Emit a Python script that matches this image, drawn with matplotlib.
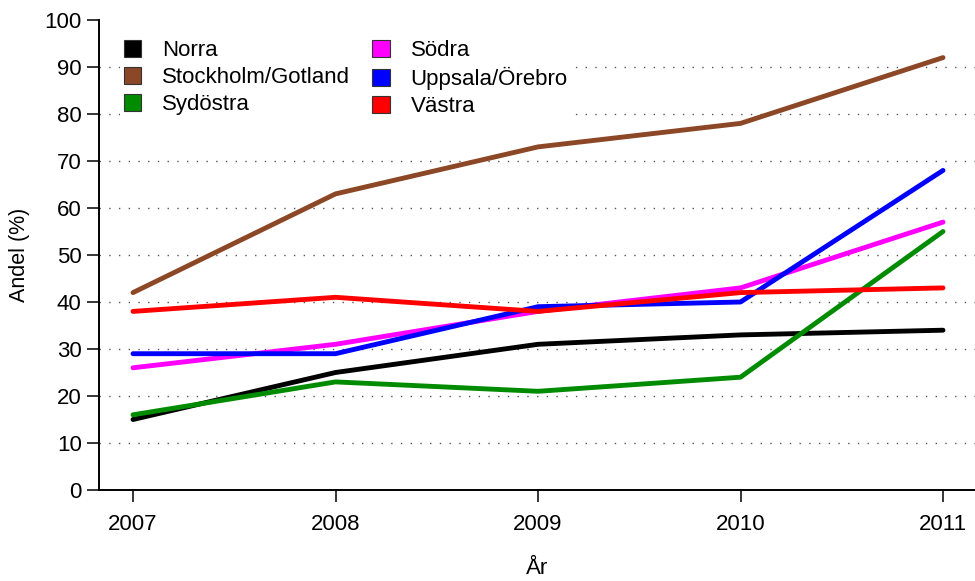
import numpy as np
import matplotlib
matplotlib.use('Agg')
import matplotlib.pyplot as plt
from matplotlib.patches import Patch

plt.rcParams['font.family'] = ['Liberation Sans', 'DejaVu Sans']

# Data
years = [2007, 2008, 2009, 2010, 2011]
regioner = ['Norra', 'Stockholm/Gotland', 'Sydöstra', 'Södra', 'Uppsala/Örebro', 'Västra']
norra = [15, 25, 31, 33, 34]
stockholm = [42, 63, 73, 78, 92]
sydostra = [16, 23, 21, 24, 55]
sodra = [26, 31, 38, 43, 57]
uppsala = [29, 29, 39, 40, 68]
vastra = [38, 41, 38, 42, 43]
farger = ['#000000', '#8B4726', '#008B00', '#FF00FF', '#0000FF', '#FF0000']
serier = [norra, stockholm, sydostra, sodra, uppsala, vastra]

fig = plt.figure(figsize=(9.75, 5.81), dpi=100)
ax = fig.add_axes([99/975, 1 - 490/581, 1 - 99/975, 470/581])

# rutnät
for y in range(10, 100, 10):
    ax.axhline(y, color='#555555', lw=1, ls=(0, (1, 6)), zorder=0)

# linjer
for namn, v, f in zip(regioner, serier, farger):
    ax.plot(years, v, color=f, lw=3.5, solid_capstyle='round', solid_joinstyle='round', zorder=2)

ax.set_xlim(2007 - 34/202.5, 2011 + 32/202.5)
ax.set_ylim(0, 100)
ax.set_xticks(years)
ax.set_yticks(range(0, 101, 10))
ax.tick_params(axis='both', labelsize=16, direction='out', length=8.5, width=1.1, pad=4)
ax.tick_params(axis='x', pad=9)
ax.spines['top'].set_visible(False)
ax.spines['right'].set_visible(False)
ax.spines['left'].set_bounds(0, 100)
ax.spines['left'].set_linewidth(1.4)
ax.spines['bottom'].set_linewidth(1.4)
ax.set_ylabel('Andel (%)', fontsize=15.5, labelpad=10)
ax.set_xlabel('År', fontsize=16, labelpad=16)

handtag = [Patch(facecolor=f, edgecolor='#333333', lw=0.8) for f in farger]
ax.legend(handtag, regioner, loc='upper left', bbox_to_anchor=(0.0235, 0.967), ncol=2, frameon=True,
          facecolor='white', edgecolor='none', framealpha=1, fontsize=16, handlelength=0.77,
          handleheight=0.77, handletextpad=0.95, columnspacing=1.0, labelspacing=0.27,
          borderpad=0.2, borderaxespad=0)

plt.savefig('out.png', dpi=100)
